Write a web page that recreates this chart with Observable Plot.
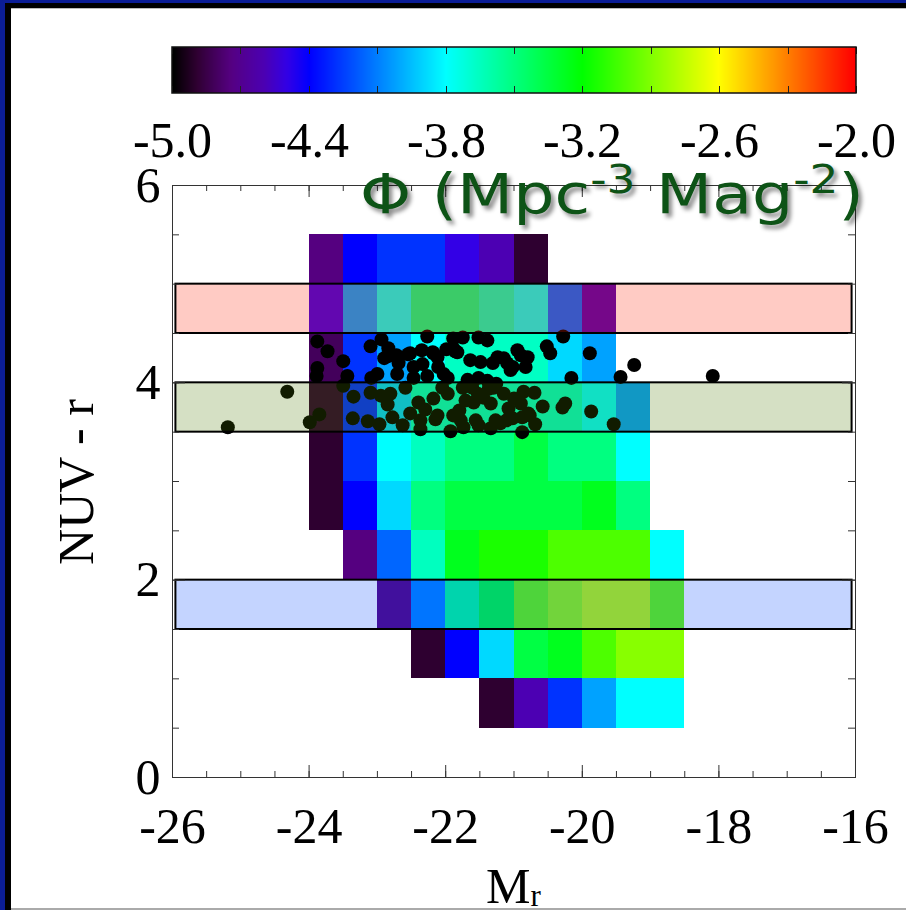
<!DOCTYPE html>
<html><head><meta charset="utf-8">
<script src="https://cdn.jsdelivr.net/npm/d3@7"></script>
<script src="https://cdn.jsdelivr.net/npm/@observablehq/plot@0.6"></script>
<style>
html,body{margin:0;padding:0;background:#fff;}
#wrap{position:relative;width:906px;height:910px;overflow:hidden;background:#fff;}
.abs{position:absolute;}
#chart text,#cbar text{font-family:"Liberation Serif","Times New Roman",serif;}
#cbar text{font-size:50px !important;fill:#000;}
#cbar svg{background:transparent !important;overflow:visible;}
#title{left:360px;top:166px;font-family:"DejaVu Sans",Verdana,sans-serif;font-size:56px;line-height:56px;color:#0d5316;white-space:nowrap;transform:scaleX(1.16);transform-origin:0 0;text-shadow:3px 4px 4px rgba(0,0,0,0.45);}
#title sup{font-size:0.7em;position:relative;top:-0.5em;vertical-align:baseline;line-height:0;}
#xlab{left:486px;top:861px;font-family:"Liberation Serif",serif;font-size:50px;line-height:50px;color:#000;white-space:nowrap;}
#xlab sub{font-size:0.62em;position:relative;top:0.1em;vertical-align:baseline;line-height:0;}
#ylab{left:-74px;top:457px;width:300px;height:50px;text-align:center;font-family:"Liberation Serif",serif;font-size:50px;line-height:50px;color:#000;white-space:nowrap;transform:rotate(-90deg);transform-origin:50% 50%;}
</style></head><body>
<div id="wrap">
  <div id="chart" class="abs" style="left:0;top:0"></div>
  <div id="cbar" class="abs" style="left:0;top:0"></div>
  <div id="title" class="abs">Φ (Mpc<sup>-3</sup> Mag<sup>-2</sup>)</div>
  <div id="xlab" class="abs">M<sub>r</sub></div>
  <div id="ylab" class="abs">NUV - r</div>
  <div class="abs" style="left:0;top:0;width:5px;height:910px;background:#0b1d96"></div>
  <div class="abs" style="left:0;top:0;width:906px;height:3px;background:#0b1d96"></div>
  <div class="abs" style="left:5px;top:3px;width:6px;height:907px;background:#000"></div>
  <div class="abs" style="left:5px;top:3px;width:901px;height:5px;background:#000"></div>
  <div class="abs" style="left:11px;top:8px;width:895px;height:1px;background:#bbb"></div>
  <div class="abs" style="left:11px;top:908px;width:895px;height:2px;background:#aaa"></div>
</div>
<script>
// ---------- data ----------
// colour-bin lower edges (NUV - r), bin size 0.5
const colorBinLow = [5.0, 4.5, 4.0, 3.5, 3.0, 2.5, 2.0, 1.5, 1.0, 0.5];
// first magnitude bin (left edge, M_r) of each row, bin size 0.5
const magBinStart = [-24, -24, -24, -24, -24, -24, -23.5, -23, -22.5, -21.5];
// log Phi (Mpc^-3 Mag^-2) per cell, left to right
const phiRows = [
  [-4.75, -4.4, -4.28, -4.28, -4.5, -4.6, -4.9],
  [-4.5, -4.02, -3.77, -3.52, -3.52, -3.64, -3.77, -4.15, -4.6],
  [-4.82, -4.28, -4.02, -3.8, -3.66, -3.66, -3.66, -3.89, -4.02],
  [-4.9, -4.29, -3.9, -3.66, -3.66, -3.66, -3.66, -3.66, -3.8, -4.02],
  [-4.9, -4.28, -3.8, -3.65, -3.5, -3.5, -3.36, -3.5, -3.5, -3.8],
  [-4.9, -4.4, -3.89, -3.5, -3.36, -3.36, -3.36, -3.36, -3.27, -3.5],
  [-4.75, -4.16, -3.65, -3.27, -3.14, -3.14, -3.02, -3.02, -3.02, -3.8],
  [-4.75, -4.09, -3.55, -3.34, -2.96, -2.85, -2.75, -2.75, -2.96],
  [-4.9, -4.4, -3.89, -3.36, -3.27, -3.02, -2.88, -2.88],
  [-4.9, -4.6, -4.28, -4.02, -3.8, -3.8]
];
// individual galaxies
const galaxyMag = [
  -23.88,-23.73,-23.50,-23.88,-23.89,-23.44,-23.10,-22.94,-22.84,-22.85,-22.72,-22.69,-23.00,-22.71,-22.52,-22.35,
  -22.34,-22.47,-22.47,-22.27,-22.27,-22.18,-22.12,-22.11,-22.03,-21.97,-21.89,-21.75,-21.89,-21.83,-21.52,-21.39,
  -21.64,-21.49,-21.31,-21.24,-21.15,-21.05,-20.90,-20.80,-20.83,-21.68,-21.52,-21.39,-21.26,-20.52,-20.47,-20.28,
  -19.89,-20.16,-19.44,-19.24,-18.09,-23.09,-22.90,-22.55,-21.99,-21.86,-21.02,-22.19,-21.10,-20.95,
  -24.32,-25.19,-23.50,-23.35,-23.10,-22.95,-22.81,-22.59,-23.85,-23.99,-23.36,-23.14,-22.97,-22.78,-22.63,-22.52,
  -22.30,-22.37,-22.15,-22.12,-22.18,-21.97,-22.05,-21.93,-21.89,-21.78,-21.74,-21.75,-21.61,-21.59,-21.53,-21.34,
  -21.56,-21.52,-21.34,-21.27,-21.20,-21.08,-21.02,-20.88,-20.86,-20.90,-20.79,-20.69,-20.58,-20.29,-20.25,-19.87,
  -19.54,-21.37,-21.15,-21.30,-21.71,-22.37,-20.77,-20.88,-21.11,-21.45,-21.00,-20.70,-22.40,-22.85,-21.80
];
const galaxyColor = [
  4.42,4.32,4.22,4.15,4.07,4.07,4.37,4.44,4.35,4.27,4.28,4.20,4.09,4.09,4.30,4.33,
  4.19,4.16,4.05,4.07,4.47,4.30,4.26,4.16,4.09,4.05,4.45,4.46,4.35,4.31,4.46,4.43,
  4.23,4.21,4.20,4.26,4.25,4.13,4.28,4.26,4.16,4.03,4.05,4.02,3.99,4.37,4.30,4.47,
  4.30,4.05,4.06,4.18,4.07,4.05,4.25,4.29,4.34,4.32,4.16,4.31,4.20,4.33,
  3.91,3.55,3.97,3.86,3.90,3.87,3.89,3.95,3.68,3.60,3.64,3.61,3.58,3.65,3.57,3.69,
  3.73,3.53,3.63,3.67,3.84,3.89,3.95,3.51,3.67,3.62,3.55,3.95,3.95,3.80,3.89,3.79,
  3.62,3.57,3.54,3.62,3.59,3.74,3.64,3.50,3.91,3.79,3.69,3.58,3.76,3.75,3.79,3.71,
  3.58,3.94,3.89,3.95,3.82,3.62,3.67,3.65,3.62,3.85,3.84,3.90,3.80,3.78,3.72
];
// highlighted colour strips
const bandNames = ["red", "green", "blue"];
const bandLow = [4.5, 3.5, 1.5];
const bandHigh = [5.0, 4.0, 2.0];
const bandMagRange = [-25.95, -16.05];
// colour bar
const cbarTicks = [-5.0, -4.7, -4.4, -4.1, -3.8, -3.5, -3.2, -2.9, -2.6, -2.3, -2.0];
const cbarLabels = [-5.0, -4.4, -3.8, -3.2, -2.6, -2.0];
// axis ticks
const xMajor = [-26, -24, -22, -20, -18, -16];
const yMajor = [0, 2, 4, 6];
const xMinor = d3.range(-26, -15.9, 0.5);
const yMinor = d3.range(0, 6.01, 0.5);

// ---------- styles ----------
const cmapStops = [-5.0, -4.9, -4.75, -4.6, -4.5, -4.4, -3.8, -3.2, -2.6, -2.0];
const cmapColors = ["#000000", "#2e0030", "#550080", "#4c00b3", "#3300e6", "#0000ff", "#00ffff", "#00ff00", "#ffff00", "#ff0000"];
const bandFill = {red: "rgb(255,30,0)", green: "rgb(74,122,0)", blue: "rgb(0,70,255)"};
const cmap = d3.scaleLinear().domain(cmapStops).range(cmapColors).interpolate(d3.interpolateRgb).clamp(true);
const colorOpts = {type: "linear", domain: [-5, -2], interpolate: t => cmap(-5 + 3 * t)};

const cells = phiRows.flatMap((row, i) => row.map((v, j) => ({
  m1: magBinStart[i] + j * 0.5, m2: magBinStart[i] + (j + 1) * 0.5,
  c1: colorBinLow[i], c2: colorBinLow[i] + 0.5, phi: v
})));
const galaxies = galaxyMag.map((m, i) => ({m, c: galaxyColor[i]}));
const bands = bandNames.map((name, i) => ({name, x1: bandMagRange[0], x2: bandMagRange[1], y1: bandLow[i], y2: bandHigh[i]}));

const FW = 906 - 172 - 51, FH = 910 - 185 - 133;
const font = "Liberation Serif";
const tickStroke = "#333";

const marks = [
  Plot.rect(cells, {x1: "m1", x2: "m2", y1: "c1", y2: "c2", fill: "phi", shapeRendering: "crispEdges"}),
  Plot.dot(galaxies, {x: "m", y: "c", r: 7, fill: "black"}),
  ...bands.map(b => Plot.rect([b], {x1: "x1", x2: "x2", y1: "y1", y2: "y2", fill: bandFill[b.name], fillOpacity: 0.23, stroke: "black", strokeWidth: 2})),
  Plot.frame({stroke: "#333"}),
  Plot.tickX(xMinor, {x: d => d, insetTop: FH - 6, stroke: tickStroke}),
  Plot.tickX(xMajor, {x: d => d, insetTop: FH - 12, stroke: tickStroke}),
  Plot.tickX(xMinor, {x: d => d, insetBottom: FH - 6, stroke: tickStroke}),
  Plot.tickX(xMajor, {x: d => d, insetBottom: FH - 12, stroke: tickStroke}),
  Plot.tickY(yMinor, {y: d => d, insetRight: FW - 7, stroke: tickStroke}),
  Plot.tickY(yMajor, {y: d => d, insetRight: FW - 13, stroke: tickStroke}),
  Plot.tickY(yMinor, {y: d => d, insetLeft: FW - 7, stroke: tickStroke}),
  Plot.tickY(yMajor, {y: d => d, insetLeft: FW - 13, stroke: tickStroke}),
  Plot.text(xMajor, {x: d => d, frameAnchor: "bottom", dy: 49, text: d => String(d), fontSize: 50, fontFamily: font, lineAnchor: "middle", fill: "black"}),
  Plot.text(yMajor, {y: d => d, frameAnchor: "left", dx: -12, dy: 0, textAnchor: "end", text: d => String(d), fontSize: 50, fontFamily: font, lineAnchor: "middle", fill: "black"})
];

const chart = Plot.plot({
  width: 906, height: 910,
  marginLeft: 172, marginRight: 51, marginTop: 185, marginBottom: 133,
  x: {domain: [-26, -16], axis: null},
  y: {domain: [0, 6], axis: null},
  color: colorOpts,
  style: {background: "transparent", overflow: "visible"},
  marks
});
document.getElementById("chart").appendChild(chart);

// colour bar (ramp legend of the same colour scale)
const leg = Plot.legend({
  color: colorOpts,
  legend: "ramp",
  width: 906, height: 200,
  marginLeft: 172, marginRight: 50, marginTop: 47, marginBottom: 107,
  ticks: cbarTicks,
  tickSize: 0,
  tickFormat: d => cbarLabels.some(v => Math.abs(v - d) < 1e-6) ? d.toFixed(1) : "",
  style: {background: "transparent", overflow: "visible"}
});
document.getElementById("cbar").appendChild(leg);
const svg = d3.select(leg.tagName.toLowerCase() === "svg" ? leg : leg.querySelector("svg"));
svg.selectAll(".tick text").attr("y", 28).attr("font-size", 50);
svg.selectAll(".tick").each(function() {
  const g = d3.select(this);
  g.selectAll("line").remove();
  g.append("line").attr("y1", -46).attr("y2", -39).attr("stroke", "#222");
  g.append("line").attr("y1", -7).attr("y2", 0).attr("stroke", "#222");
});
svg.append("rect").attr("x", 172).attr("y", 47).attr("width", 684).attr("height", 46)
  .attr("fill", "none").attr("stroke", "#111").attr("stroke-width", 1.5);
</script>
</body></html>
